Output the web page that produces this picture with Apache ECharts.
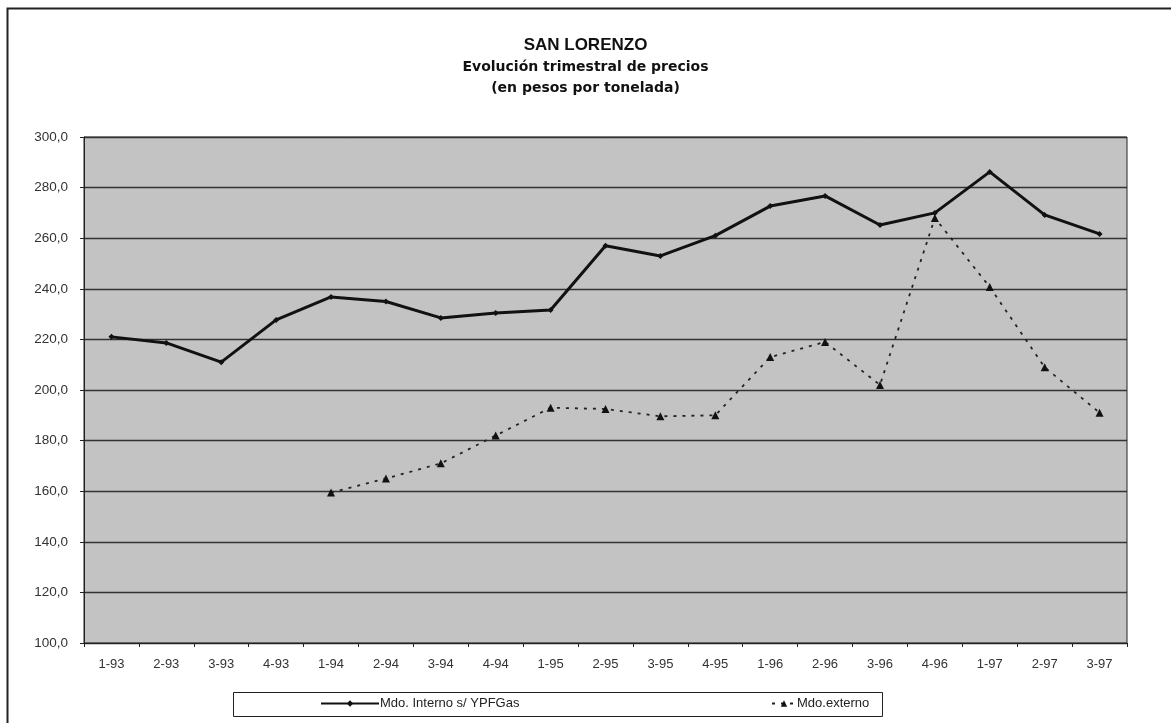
<!DOCTYPE html>
<html lang="es">
<head>
    <meta charset="UTF-8">
    <title>San Lorenzo - Evolución trimestral de precios</title>
    <script src="https://cdn.jsdelivr.net/npm/echarts@6/dist/echarts.min.js"></script>
    <style>
        html, body { margin: 0; padding: 0; background: #fff; }
        #chart { width: 1171px; height: 723px; }
    </style>
</head>
<body>
<div id="chart"></div>
<script>
    // trimestres
    var trimestres = ['1-93', '2-93', '3-93', '4-93', '1-94', '2-94', '3-94', '4-94', '1-95', '2-95',
        '3-95', '4-95', '1-96', '2-96', '3-96', '4-96', '1-97', '2-97', '3-97'];
    // Mdo. Interno s/ YPFGas
    var mdoInterno = [221.0, 218.6, 211.0, 227.7, 236.8, 235.0, 228.5, 230.4, 231.6, 257.0,
        253.0, 261.0, 272.7, 276.7, 265.2, 270.0, 286.2, 269.2, 261.7];
    // Mdo. externo (sin datos en 1993)
    var mdoExterno = [null, null, null, null, 159.5, 165.0, 171.0, 182.0, 193.0, 192.5,
        189.6, 190.0, 213.0, 219.0, 202.0, 268.0, 240.7, 209.0, 191.0];
    var ticksY = [100, 120, 140, 160, 180, 200, 220, 240, 260, 280, 300];

    var myChart = echarts.init(document.getElementById('chart'));
    var fuente = 'Liberation Sans, Arial, sans-serif';
    var legendText = { fontFamily: fuente, fontSize: 13, color: '#222', padding: [0, 0, 0, -4] };

    var option = {
        backgroundColor: '#ffffff',
        animation: false,
        title: [{
            text: 'SAN LORENZO',
            left: 'center',
            top: 32,
            textStyle: { fontFamily: fuente, fontSize: 17, fontWeight: 'bold', color: '#111' }
        }, {
            text: 'Evolución trimestral de precios\n(en pesos por tonelada)',
            left: 'center',
            top: 52,
            textStyle: { fontFamily: 'DejaVu Sans', fontSize: 14, fontWeight: 'bold', color: '#111', lineHeight: 21 }
        }],
        graphic: [{
            type: 'rect',
            shape: { x: 7.5, y: 8.5, width: 1200, height: 800 },
            style: { fill: 'none', stroke: '#222', lineWidth: 2 },
            silent: true
        }, {
            type: 'rect',
            shape: { x: 233.5, y: 692.5, width: 649, height: 24 },
            style: { fill: '#fff', stroke: '#222', lineWidth: 1 },
            silent: true,
            z: -1
        }],
        legend: [{
            left: 320,
            top: 697,
            padding: 0,
            itemWidth: 58,
            itemHeight: 8,
            textStyle: legendText,
            data: ['Mdo. Interno s/ YPFGas']
        }, {
            left: 771,
            top: 697,
            padding: 0,
            itemWidth: 24,
            itemHeight: 8,
            textStyle: legendText,
            data: ['Mdo.externo']
        }],
        grid: {
            left: 84,
            right: 44,
            top: 137,
            bottom: 80,
            show: true,
            backgroundColor: '#c3c3c3',
            borderColor: '#222',
            borderWidth: 1
        },
        xAxis: {
            type: 'category',
            data: trimestres,
            boundaryGap: true,
            axisLine: { lineStyle: { color: '#222', width: 1 } },
            axisTick: { show: true, length: 4, lineStyle: { color: '#222' } },
            axisLabel: { fontFamily: fuente, fontSize: 13, color: '#333', margin: 15 }
        },
        yAxis: {
            type: 'value',
            min: ticksY[0],
            max: ticksY[ticksY.length - 1],
            interval: 20,
            axisLine: { show: true, lineStyle: { color: '#222' } },
            axisTick: { show: true, length: 4, lineStyle: { color: '#222' } },
            axisLabel: {
                fontFamily: fuente, fontSize: 13.5, color: '#333', margin: 16,
                formatter: function (v) { return v.toFixed(1).replace('.', ','); }
            },
            splitLine: { lineStyle: { color: '#333', width: 1.3 } }
        },
        series: [{
            name: 'Mdo. Interno s/ YPFGas',
            type: 'line',
            data: mdoInterno,
            symbol: 'diamond',
            symbolSize: 6,
            lineStyle: { color: '#111', width: 3 },
            itemStyle: { color: '#111' }
        }, {
            name: 'Mdo.externo',
            type: 'line',
            data: mdoExterno,
            symbol: 'triangle',
            symbolSize: 8,
            lineStyle: { color: '#222', width: 1.8, type: [3, 6] },
            itemStyle: { color: '#111' }
        }]
    };

    myChart.setOption(option);
</script>
</body>
</html>
